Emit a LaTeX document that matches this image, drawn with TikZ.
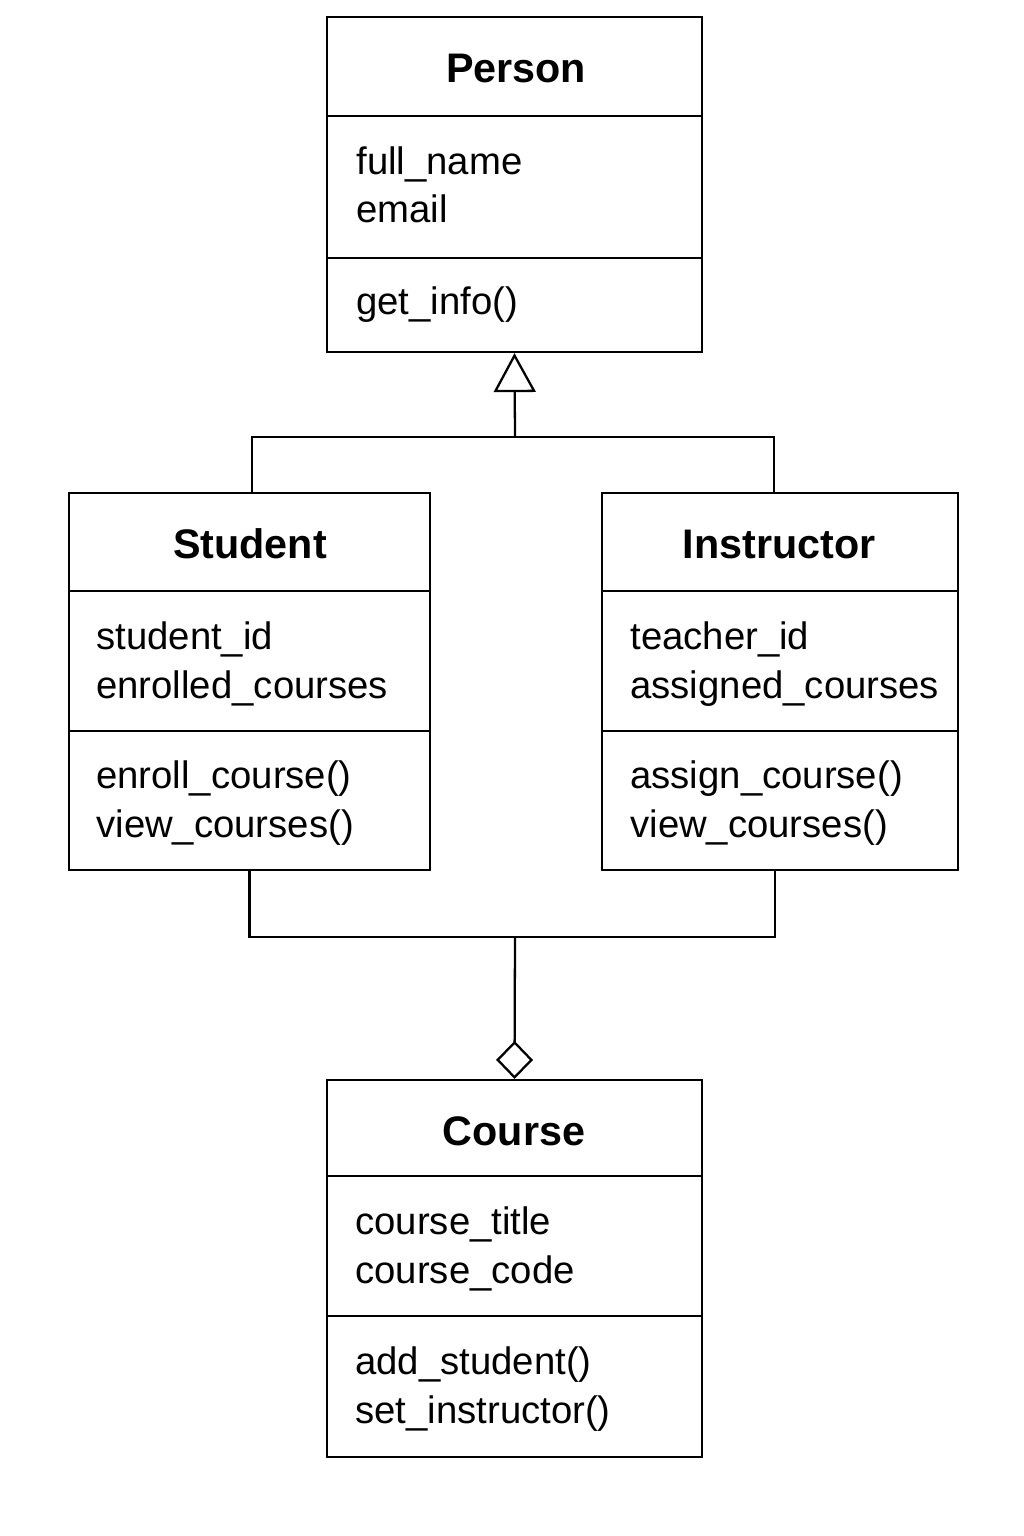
\documentclass[tikz,border=0pt]{standalone}
\usepackage{fontspec}
\setmainfont{Liberation Sans}
\usetikzlibrary{arrows.meta}

\tikzset{
  classbox/.style={draw, line width=1.3pt, inner sep=0, rectangle},
  member/.style={anchor=base west, inner sep=0, font=\fontsize{21.8}{28}\selectfont},
  classname/.style={anchor=base, inner sep=0, font=\fontsize{23.5}{28}\selectfont\bfseries},
  link/.style={line width=1.3pt}
}

\begin{document}
\begin{tikzpicture}[x=0.02cm, y=-0.02cm]
\useasboundingbox (0,0) rectangle (1024,1536);

\node[classbox, minimum width=7.5cm, minimum height=6.7cm](person) at (514.5,184.5) {};
\draw[link] (327,116) -- (702,116);
\draw[link] (327,258) -- (702,258);
\node[classname](person-name) at (516,82) {Person};
\node[member](person-a1) at (356,174) {full\_name};
\node[member](person-a2) at (356,222) {email};
\node[member](person-m1) at (356,314) {get\_info()};

\node[classbox, minimum width=7.22cm, minimum height=7.54cm](student) at (249.5,681.5) {};
\draw[link] (69,591) -- (430,591);
\draw[link] (69,731) -- (430,731);
\node[classname](student-name) at (250,558) {Student};
\node[member](student-a1) at (96,649) {student\_id};
\node[member](student-a2) at (96,698) {enrolled\_courses};
\node[member](student-m1) at (96,788) {enroll\_course()};
\node[member](student-m2) at (96,837) {view\_courses()};

\node[classbox, minimum width=7.12cm, minimum height=7.54cm](instructor) at (780,681.5) {};
\draw[link] (602,591) -- (958,591);
\draw[link] (602,731) -- (958,731);
\node[classname](instructor-name) at (779,558) {Instructor};
\node[member](instructor-a1) at (630,649) {teacher\_id};
\node[member](instructor-a2) at (630,698) {assigned\_courses};
\node[member](instructor-m1) at (630,788) {assign\_course()};
\node[member](instructor-m2) at (630,837) {view\_courses()};

\node[classbox, minimum width=7.5cm, minimum height=7.54cm](course) at (514.5,1268.5) {};
\draw[link] (327,1176) -- (702,1176);
\draw[link] (327,1316) -- (702,1316);
\node[classname](course-name) at (514,1145) {Course};
\node[member](course-a1) at (355,1234) {course\_title};
\node[member](course-a2) at (355,1283) {course\_code};
\node[member](course-m1) at (355,1374) {add\_student()};
\node[member](course-m2) at (355,1423) {set\_instructor()};

\coordinate (inherit) at (515,437);
\coordinate (assoc) at (515,937);
\draw[link] ([xshift=0.05cm]student.north) |- (inherit) -| ([xshift=-0.12cm]instructor.north);
\draw[link, -{Triangle[open, length=0.78cm, width=0.84cm, line width=1.3pt]}] (inherit) -- (person.south);
\draw[link] (student.south) |- (assoc) -| ([xshift=-0.1cm]instructor.south);
\draw[link, -{Diamond[open, length=0.76cm, width=0.74cm, line width=1.3pt]}] (assoc) -- (course.north);
\end{tikzpicture}
\end{document}
